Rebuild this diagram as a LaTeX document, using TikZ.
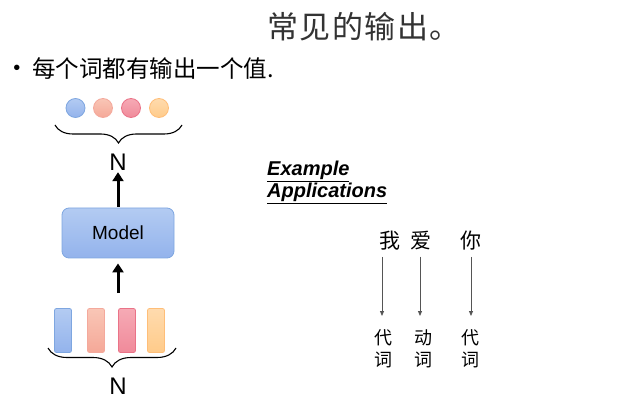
\documentclass[tikz,border=0pt]{standalone}
\usepackage{fontspec}
\setmainfont{Liberation Sans}
\newfontfamily\cjk{Noto Sans CJK SC}
\newfontfamily\cjkwide[LetterSpace=5]{Noto Sans CJK SC}
\definecolor{tgray}{HTML}{333333}
\definecolor{bluetop}{HTML}{B3CBF2}
\definecolor{bluebot}{HTML}{93B3EC}
\definecolor{blueline}{HTML}{7EA6E0}
\definecolor{salmtop}{HTML}{F9C6B6}
\definecolor{salmbot}{HTML}{F5A898}
\definecolor{salmline}{HTML}{F4A99C}
\definecolor{pinktop}{HTML}{F6AAB5}
\definecolor{pinkbot}{HTML}{F08A9A}
\definecolor{pinkline}{HTML}{EA7388}
\definecolor{orgtop}{HTML}{FFDBAE}
\definecolor{orgbot}{HTML}{FFCB8A}
\definecolor{orgline}{HTML}{FFBE78}
\definecolor{arrgray}{HTML}{555555}
\usetikzlibrary{arrows.meta,positioning,decorations.pathreplacing}

\begin{document}
\begin{tikzpicture}[x=1pt,y=-1pt,
  dot/.style={circle,minimum size=19pt,inner sep=0pt,line width=0.8pt},
  bar/.style={rectangle,rounded corners=2pt,minimum width=17pt,minimum height=44pt,inner sep=0pt,line width=0.8pt},
  fat/.style={line width=3pt,-{Triangle[length=9pt,width=11pt]}},
  brc/.style={decorate,decoration={brace,mirror,amplitude=#1},line width=1.1pt},
  word/.style={font=\cjk\fontsize{21}{21}\selectfont,inner sep=0pt},
  tag/.style={font=\cjk\fontsize{18}{22}\selectfont,align=center,inner sep=0pt},
  link/.style={arrgray,line width=0.8pt,-{Triangle[length=5pt,width=4pt]}}]
  \useasboundingbox (0,0) rectangle (624,406);
  \node[anchor=west,inner sep=0pt,text=tgray,font=\cjkwide\fontsize{31}{31}\selectfont] (title) at (267,27) {常见的输出。};
  \node[inner sep=0pt,font=\fontsize{20}{20}\selectfont] (dot0) at (17,70) {\textbullet};
  \node[anchor=west,inner sep=0pt,font=\cjk\fontsize{23.5}{23.5}\selectfont] (point) at (32,69) {每个词都有输出一个值.};
  % outputs
  \node[dot,top color=bluetop,bottom color=bluebot,draw=blueline] (o1) at (75.5,108) {};
  \node[dot,top color=salmtop,bottom color=salmbot,draw=salmline] (o2) at (103,108) {};
  \node[dot,top color=pinktop,bottom color=pinkbot,draw=pinkline] (o3) at (131,108) {};
  \node[dot,top color=orgtop,bottom color=orgbot,draw=orgline] (o4) at (159,108) {};
  \draw[brc=18pt] (55,125) -- (182,125);
  \node[inner sep=0pt,anchor=base,font=\fontsize{24}{24}\selectfont] (ntop) at (118,171) {N};
  \node[draw=blueline,line width=0.8pt,rounded corners=7pt,top color=bluetop,bottom color=bluebot,
    minimum width=112pt,minimum height=50pt,font=\fontsize{19}{19}\selectfont] (model) at (118,233) {Model};
  \draw[fat,shorten <=1pt,shorten >=1pt] (model) -- (ntop);
  % inputs
  \node[bar,top color=bluetop,bottom color=bluebot,draw=blueline] (x1) at (63,330.5) {};
  \node[bar,top color=salmtop,bottom color=salmbot,draw=salmline] (x2) at (96,330.5) {};
  \node[bar,top color=pinktop,bottom color=pinkbot,draw=pinkline] (x3) at (127,330.5) {};
  \node[bar,top color=orgtop,bottom color=orgbot,draw=orgline] (x4) at (156,330.5) {};
  \draw[brc=19pt] (48,348) -- (176,348);
  \node[inner sep=0pt,anchor=base,font=\fontsize{24}{24}\selectfont] (nbot) at (118,394) {N};
  \coordinate (feed) at (118,293);
  \draw[fat,shorten >=5pt] (feed) -- (model);
  % example
  \node[anchor=base west,inner sep=0pt,font=\bfseries\itshape\fontsize{20}{20}\selectfont] (ex1) at (267,176) {\underline{Example}};
  \node[anchor=base west,inner sep=0pt,font=\bfseries\itshape\fontsize{20}{20}\selectfont] (ex2) at (267,198) {\underline{Applications}};
  \node[word] (w1) at (390,241) {我};
  \node[word] (w2) at (421,241) {爱};
  \node[word] (w3) at (471,241) {你};
  \node[tag] (t1) at (383,349) {代\\词};
  \node[tag] (t2) at (423,349) {动\\词};
  \node[tag] (t3) at (470,349) {代\\词};
  \coordinate (e1) at (382,316);
  \coordinate (e2) at (420,316);
  \coordinate (e3) at (471,316);
  \draw[link,shorten <=6pt] (w1.south -| e1) -- (e1);
  \draw[link,shorten <=6pt] (w2.south -| e2) -- (e2);
  \draw[link,shorten <=6pt] (w3.south -| e3) -- (e3);
\end{tikzpicture}
\end{document}
